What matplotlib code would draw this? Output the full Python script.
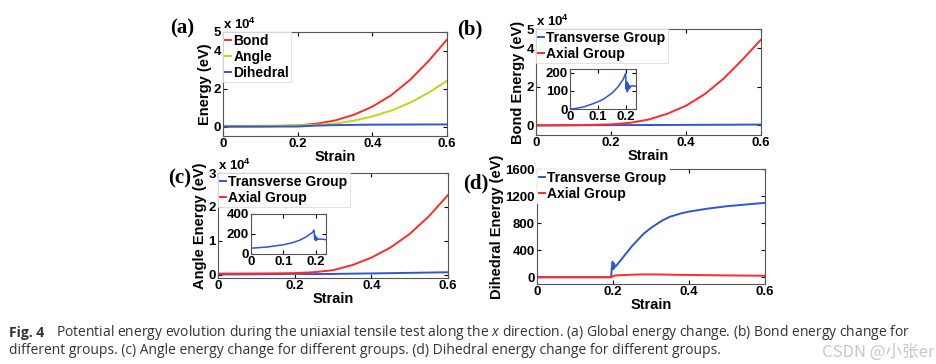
import matplotlib
matplotlib.use('Agg')
import matplotlib.pyplot as plt

plt.rcParams['font.family'] = ['Liberation Sans', 'DejaVu Sans']
plt.rcParams['font.weight'] = 'bold'
plt.rcParams['axes.labelweight'] = 'bold'
plt.rcParams['mathtext.fontset'] = 'custom'
plt.rcParams['mathtext.rm'] = 'Liberation Sans'
plt.rcParams['mathtext.it'] = 'Open Sans:italic:regular'

RED = '#ff2a2a'
YEL = '#c4d21a'
BLUE = '#2f55d4'

# strain grid for the smooth curves
strain = [0, 0.05, 0.1, 0.15, 0.2, 0.25, 0.3, 0.35, 0.4, 0.45, 0.5, 0.55, 0.6]

# (a) global energies, x 10^4 eV
bond_total = [0, 0.003, 0.01, 0.03, 0.06, 0.15, 0.32, 0.62, 1.05, 1.65, 2.45, 3.45, 4.6]
angle_total = [0.036, 0.037, 0.042, 0.051, 0.067, 0.085, 0.15, 0.31, 0.535, 0.84, 1.25, 1.78, 2.42]
dihedral_total = [0, 0, 0, 0, 0.002, 0.05, 0.075, 0.09, 0.1, 0.103, 0.107, 0.11, 0.112]

# (b) bond energy by group, x 10^4 eV
bond_trans = [0, 0.0005, 0.004, 0.009, 0.013, 0.015, 0.018, 0.021, 0.025, 0.029, 0.033, 0.037, 0.042]
bond_axial = [0, 0.003, 0.01, 0.03, 0.05, 0.13, 0.3, 0.6, 1.02, 1.62, 2.42, 3.4, 4.45]
inset_b_strain = [0, 0.02, 0.05, 0.08, 0.1, 0.12, 0.15, 0.17, 0.19, 0.198, 0.2, 0.202,
                  0.204, 0.206, 0.208, 0.21, 0.213, 0.216, 0.22, 0.235]
inset_b_energy = [0, 3, 12, 28, 40, 55, 88, 120, 165, 196, 110, 150,
                  95, 140, 105, 130, 115, 125, 128, 125]

# (c) angle energy by group, x 10^4 eV
angle_trans = [0.006, 0.006, 0.009, 0.014, 0.022, 0.015, 0.02, 0.028, 0.035, 0.043, 0.052, 0.061, 0.07]
angle_axial = [0.03, 0.031, 0.033, 0.037, 0.045, 0.07, 0.13, 0.28, 0.5, 0.8, 1.2, 1.72, 2.35]
inset_c_strain = [0, 0.01, 0.05, 0.1, 0.13, 0.15, 0.17, 0.19, 0.195, 0.197, 0.199,
                  0.201, 0.203, 0.206, 0.21, 0.22, 0.23]
inset_c_energy = [58, 60, 70, 92, 115, 137, 170, 215, 240, 145, 185,
                  135, 165, 145, 150, 148, 144]

# (d) dihedral energy by group, eV
d_strain = [0, 0.1, 0.195, 0.197, 0.199, 0.2, 0.201, 0.203, 0.205, 0.21, 0.22,
            0.25, 0.28, 0.3, 0.33, 0.35, 0.38, 0.4, 0.45, 0.5, 0.55, 0.6]
dih_trans = [0, 0, 0, 150, 230, 190, 120, 200, 150, 180, 250,
             460, 640, 730, 840, 895, 945, 970, 1015, 1050, 1075, 1100]
dih_axial = [0, 0, 0, 5, 10, 15, 20, 22, 25, 28, 30,
             38, 42, 42, 40, 38, 35, 34, 30, 27, 24, 22]

W, H = 937, 364


def box(l, t, r, b):
    return [l / W, 1 - b / H, (r - l) / W, (b - t) / H]


def style(ax, fs=9.5):
    ax.tick_params(direction='in', length=3, width=0.8, top=True, right=True,
                   labelsize=fs, pad=1.5)
    for s in ax.spines.values():
        s.set_color('#555555')
        s.set_linewidth(0.8)


def legend(ax, **kw):
    leg = ax.legend(loc='upper left', fontsize=10, handlelength=0.45, handletextpad=0.15,
                    borderpad=0.15, labelspacing=0.15, borderaxespad=0.0, fancybox=False,
                    framealpha=1, edgecolor='#dddddd', **kw)
    leg.get_frame().set_linewidth(0.6)
    return leg


def times_ten(ax):
    ax.text(0.0, 1.0, r'x 10$^{4}$', transform=ax.transAxes, fontsize=9.5,
            ha='left', va='bottom', fontweight='bold')


def labels(ax, ylab):
    ax.set_xlabel('Strain', fontsize=10.5, labelpad=0)
    ax.set_ylabel(ylab, fontsize=10.5, labelpad=1)


fig = plt.figure(figsize=(W / 100, H / 100), dpi=100)

# (a)
ax = fig.add_axes(box(223, 32, 447, 136))
ax.plot(strain, bond_total, color=RED, lw=1.4, label='Bond')
ax.plot(strain, angle_total, color=YEL, lw=1.4, label='Angle')
ax.plot(strain, dihedral_total, color=BLUE, lw=1.4, label='Dihedral')
ax.set_xlim(0, 0.6)
ax.set_ylim(-0.5, 5)
ax.set_xticks([0, 0.2, 0.4, 0.6])
ax.set_xticklabels(['0', '0.2', '0.4', '0.6'])
ax.set_yticks([0, 2, 4, 5])
labels(ax, 'Energy (eV)')
style(ax)
legend(ax)
times_ten(ax)

# (b)
ax = fig.add_axes(box(536, 29, 761, 135))
ax.plot(strain, bond_trans, color=BLUE, lw=1.4, label='Transverse Group')
ax.plot(strain, bond_axial, color=RED, lw=1.4, label='Axial Group')
ax.set_xlim(0, 0.6)
ax.set_ylim(-0.5, 5)
ax.set_xticks([0, 0.2, 0.4, 0.6])
ax.set_xticklabels(['0', '0.2', '0.4', '0.6'])
ax.set_yticks([0, 2, 4, 5])
labels(ax, 'Bond Energy (eV)')
style(ax)
legend(ax)
times_ten(ax)

ins = fig.add_axes(box(570, 69, 636, 109))
ins.plot(inset_b_strain, inset_b_energy, color=BLUE, lw=1.1)
ins.set_xlim(0, 0.235)
ins.set_ylim(0, 220)
ins.set_xticks([0, 0.1, 0.2])
ins.set_xticklabels(['0', '0.1', '0.2'])
ins.set_yticks([0, 100, 200])
style(ins)

# (c)
ax = fig.add_axes(box(218, 173, 448, 278))
ax.plot(strain, angle_trans, color=BLUE, lw=1.4, label='Transverse Group')
ax.plot(strain, angle_axial, color=RED, lw=1.4, label='Axial Group')
ax.set_xlim(0, 0.6)
ax.set_ylim(-0.1, 3)
ax.set_xticks([0, 0.2, 0.4, 0.6])
ax.set_xticklabels(['0', '0.2', '0.4', '0.6'])
ax.set_yticks([0, 1, 2, 3])
labels(ax, 'Angle Energy (eV)')
style(ax)
legend(ax)
times_ten(ax)

ins = fig.add_axes(box(251, 214, 326, 254))
ins.plot(inset_c_strain, inset_c_energy, color=BLUE, lw=1.1)
ins.set_xlim(0, 0.232)
ins.set_ylim(0, 400)
ins.set_xticks([0, 0.1, 0.2])
ins.set_xticklabels(['0', '0.1', '0.2'])
ins.set_yticks([0, 200, 400])
style(ins)

# (d)
ax = fig.add_axes(box(537, 169, 765, 284))
ax.plot(d_strain, dih_trans, color=BLUE, lw=1.4, label='Transverse Group')
ax.plot(d_strain, dih_axial, color=RED, lw=1.4, label='Axial Group')
ax.set_xlim(0, 0.6)
ax.set_ylim(-100, 1600)
ax.set_xticks([0, 0.2, 0.4, 0.6])
ax.set_xticklabels(['0', '0.2', '0.4', '0.6'])
ax.set_yticks([0, 400, 800, 1200, 1600])
labels(ax, 'Dihedral Energy (eV)')
style(ax)
legend(ax).get_frame().set_edgecolor('white')

# panel letters
for s, x, y in [('(a)', 182, 28), ('(b)', 470, 29), ('(c)', 180, 178), ('(d)', 476, 183)]:
    fig.text(x / W, 1 - y / H, s, fontsize=15, fontweight='bold', family='Liberation Serif',
             ha='center', va='center')

# caption
cap = dict(fontsize=10, family='Open Sans', fontweight='normal', color='#333333', va='center')
fig.text(9 / W, 1 - 333 / H, 'Fig. 4', fontsize=10, family='Open Sans', fontweight='bold',
         color='#333333', va='center')
fig.text(56 / W, 1 - 333 / H, 'Potential energy evolution during the uniaxial tensile test along the '
         r'$x$ direction. (a) Global energy change. (b) Bond energy change for', **cap)
fig.text(9 / W, 1 - 351 / H, 'different groups. (c) Angle energy change for different groups. '
         '(d) Dihedral energy change for different groups.', **cap)
fig.text(935 / W, 1 - 352 / H, 'CSDN @小张er', fontsize=12, ha='right', va='center',
         family=['Noto Sans CJK SC', 'DejaVu Sans'], fontweight='normal', color='#c8c8c8')

fig.savefig('out.png', dpi=100)
